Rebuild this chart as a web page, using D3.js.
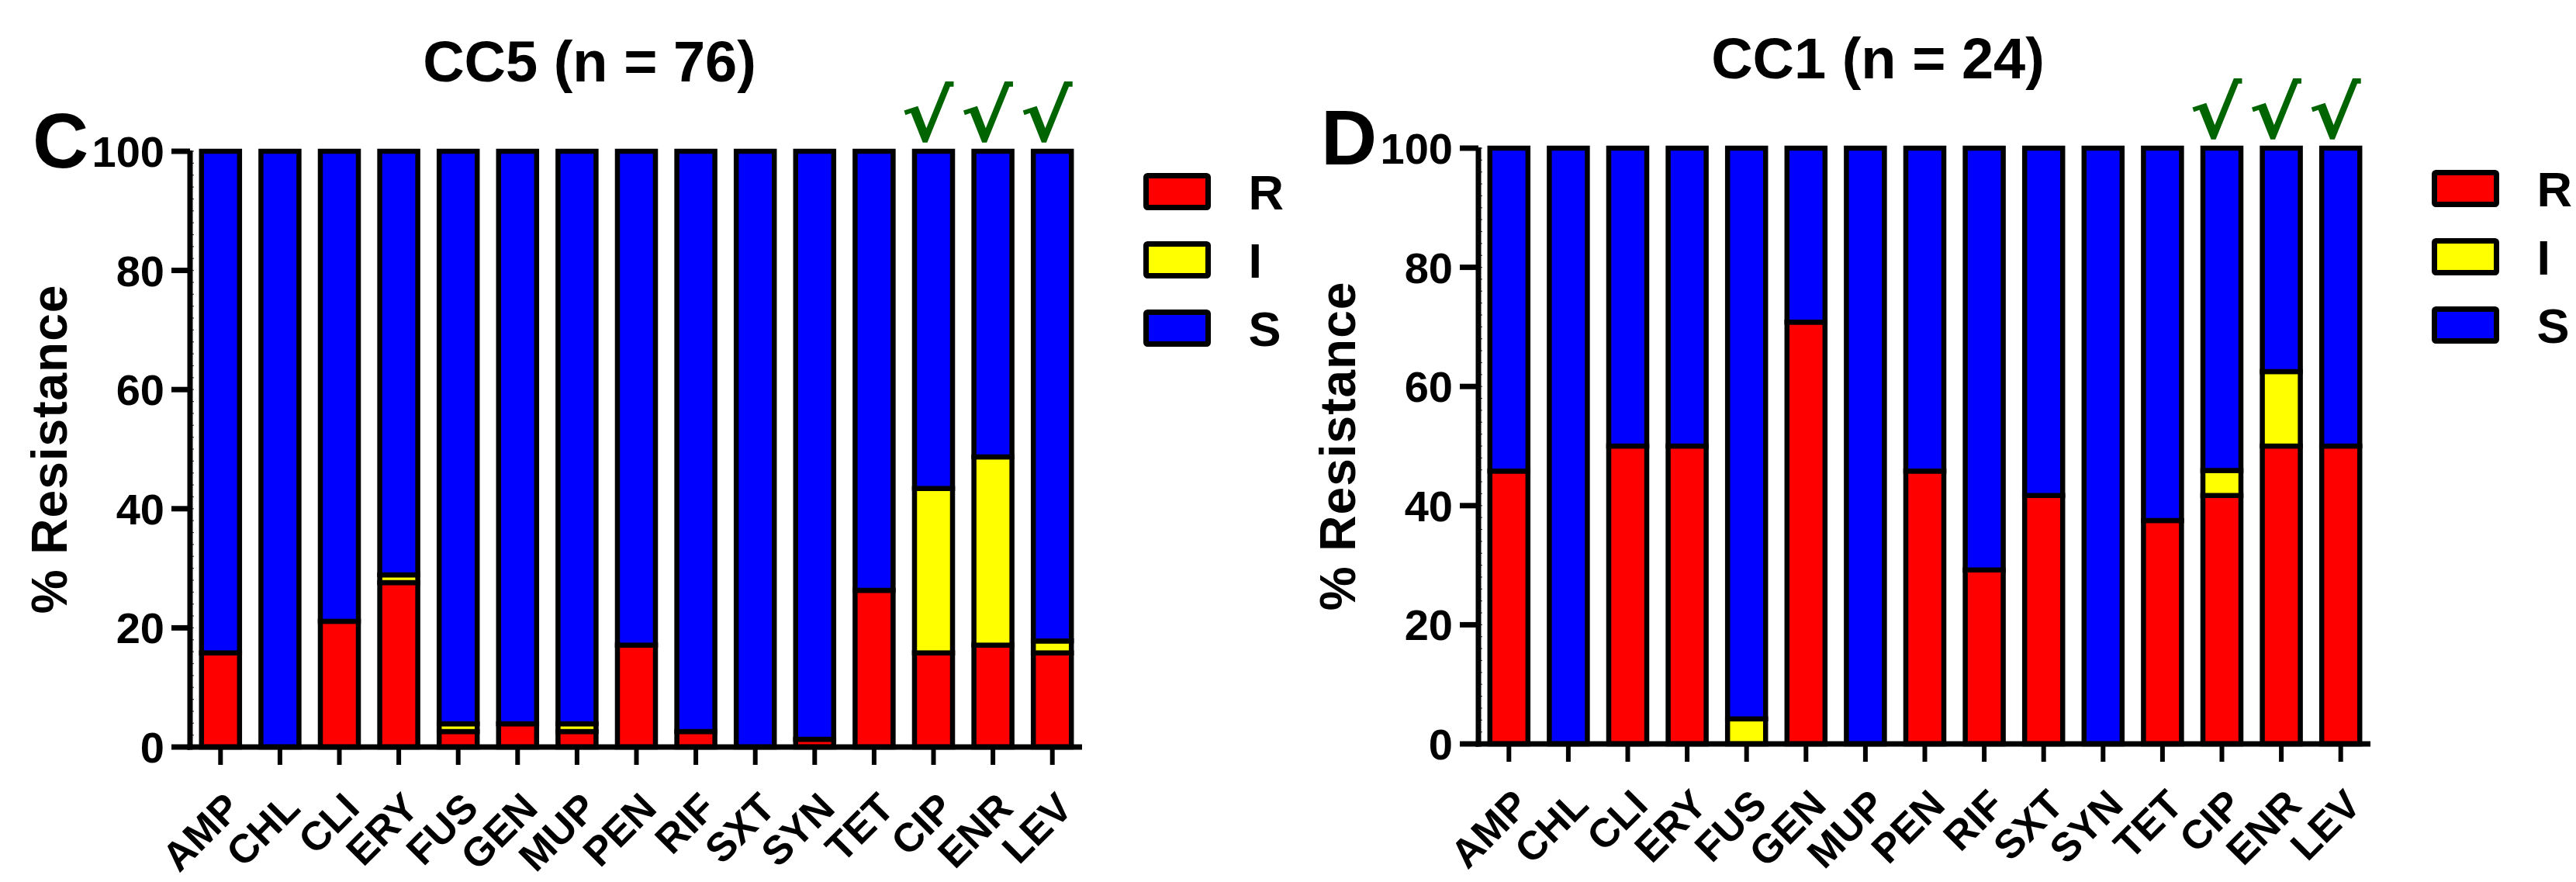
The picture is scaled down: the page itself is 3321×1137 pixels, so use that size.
<!DOCTYPE html>
<html>
<head>
<meta charset="utf-8">
<script src="https://cdn.jsdelivr.net/npm/d3@7/dist/d3.min.js"></script>
<style>
  body { margin: 0; background: #fff; }
  text { font-family: "Liberation Sans", Arial, sans-serif; font-weight: bold; fill: #000; }
</style>
</head>
<body>
<div id="chart"></div>
<script>
// antibiotics on the x axis
var drugs = ["AMP","CHL","CLI","ERY","FUS","GEN","MUP","PEN","RIF","SXT","SYN","TET","CIP","ENR","LEV"];
var checked = ["CIP","ENR","LEV"];
var statuses = ["R","I","S"];
var statusColors = ["#ff0000","#ffff00","#0000ff"];
var yTicks = [0,20,40,60,80,100];

// CC5 (n = 76), % of isolates
var cc5R = [15.8, 0, 21.1, 27.6, 2.6, 3.9, 2.6, 17.1, 2.6, 0, 1.3, 26.3, 15.8, 17.1, 15.8];
var cc5I = [0, 0, 0, 1.3, 1.3, 0, 1.3, 0, 0, 0, 0, 0, 27.6, 31.6, 2.0];
var cc5S = [84.2, 100, 78.9, 71.1, 96.1, 96.1, 96.1, 82.9, 97.4, 100, 98.7, 73.7, 56.6, 51.3, 82.2];

// CC1 (n = 24)
var cc1R = [45.8, 0, 50, 50, 0, 70.8, 0, 45.8, 29.2, 41.7, 0, 37.5, 41.7, 50, 50];
var cc1I = [0, 0, 0, 0, 4.2, 0, 0, 0, 0, 0, 0, 0, 4.2, 12.5, 0];
var cc1S = [54.2, 100, 50, 50, 95.8, 29.2, 100, 54.2, 70.8, 58.3, 100, 62.5, 54.1, 37.5, 50];

var W = 3321, H = 1137;

var svg = d3.select("#chart").append("svg")
    .attr("width", W)
    .attr("height", H);

svg.append("rect").attr("width", W).attr("height", H).attr("fill", "#fff");

function drawPanel(g, letter, title, R, I, S) {

  var rows = drugs.map(function(d, i) {
    return {drug: d, R: R[i], I: I[i], S: S[i]};
  });

  var x = d3.scaleBand()
      .domain(drugs)
      .range([246, 1395]);

  var y = d3.scaleLinear()
      .domain([0, 100])
      .range([963, 195]);

  var color = d3.scaleOrdinal().domain(statuses).range(statusColors);

  var stacked = d3.stack().keys(statuses)(rows);

  var barW = x.bandwidth() * 0.64;
  var mid = function(d) { return x(d) + x.bandwidth() / 2; };

  // bars
  g.selectAll("g.layer")
    .data(stacked)
    .enter()
    .append("g")
      .attr("class", "layer")
      .attr("fill", function(d) { return color(d.key); })
    .selectAll("rect")
    .data(function(d) { return d.filter(function(s) { return s[1] - s[0] > 0; }); })
    .enter()
    .append("rect")
      .attr("x", function(d) { return mid(d.data.drug) - barW / 2; })
      .attr("y", function(d) { return y(d[1]); })
      .attr("width", barW)
      .attr("height", function(d) { return y(d[0]) - y(d[1]); })
      .attr("stroke", "#000")
      .attr("stroke-width", 6.5);

  // minor ticks
  g.selectAll("line.yminor")
    .data(d3.range(0, 101, 2))
    .enter()
    .append("line")
      .attr("x1", 245).attr("x2", 250)
      .attr("y1", function(d) { return y(d); })
      .attr("y2", function(d) { return y(d); })
      .attr("stroke", "#444").attr("stroke-width", 1.2);

  // axes lines
  g.append("line")
    .attr("x1", 245).attr("x2", 245)
    .attr("y1", y(0) + 3.5).attr("y2", y(100) - 1)
    .attr("stroke", "#000").attr("stroke-width", 7);

  g.append("line")
    .attr("x1", 241.5).attr("x2", x.range()[1])
    .attr("y1", y(0)).attr("y2", y(0))
    .attr("stroke", "#000").attr("stroke-width", 7);

  // y ticks
  g.selectAll("line.ytick")
    .data(yTicks)
    .enter()
    .append("line")
      .attr("x1", 221).attr("x2", 245)
      .attr("y1", function(d) { return y(d); })
      .attr("y2", function(d) { return y(d); })
      .attr("stroke", "#000").attr("stroke-width", 7);

  g.selectAll("text.ylab")
    .data(yTicks)
    .enter()
    .append("text")
      .attr("x", 212)
      .attr("y", function(d) { return y(d) + 20; })
      .attr("text-anchor", "end")
      .style("font-size", "56px")
      .text(function(d) { return d; });

  // x ticks
  g.selectAll("line.xtick")
    .data(drugs)
    .enter()
    .append("line")
      .attr("x1", mid)
      .attr("x2", mid)
      .attr("y1", y(0)).attr("y2", y(0) + 23)
      .attr("stroke", "#000").attr("stroke-width", 6);

  g.selectAll("text.xlab")
    .data(drugs)
    .enter()
    .append("text")
      .attr("transform", function(d) {
        return "translate(" + (mid(d) + 2) + ",1018) rotate(-45)";
      })
      .attr("dy", "0.72em")
      .attr("text-anchor", "end")
      .style("font-size", "52px")
      .text(function(d) { return d; });

  // axis title
  g.append("text")
    .attr("transform", "translate(86,579) rotate(-90)")
    .attr("text-anchor", "middle")
    .style("font-size", "64px")
    .style("letter-spacing", "1px")
    .text("% Resistance");

  // panel letter and title
  g.append("text")
    .attr("x", 42).attr("y", 216)
    .style("font-size", "100px")
    .text(letter);

  g.append("text")
    .attr("x", 760).attr("y", 105)
    .attr("text-anchor", "middle")
    .style("font-size", "74px")
    .text(title);

  // check marks over the fluoroquinolones
  g.selectAll("text.check")
    .data(checked)
    .enter()
    .append("text")
      .attr("transform", function(d) { return "translate(" + (mid(d) - 8) + ",182) scale(1.1,1)"; })
      .attr("text-anchor", "middle")
      .style("font-family", "'DejaVu Sans', sans-serif")
      .style("font-size", "92px")
      .style("fill", "#006400")
      .text("\u221A");

  // legend
  var leg = g.selectAll("g.leg")
    .data(statuses)
    .enter()
    .append("g")
      .attr("transform", function(d, i) { return "translate(1477.5," + (226.5 + i * 88) + ")"; });

  leg.append("rect")
    .attr("width", 80).attr("height", 41)
    .attr("rx", 2)
    .attr("fill", function(d) { return color(d); })
    .attr("stroke", "#000").attr("stroke-width", 7);

  leg.append("text")
    .attr("x", 132).attr("y", 43)
    .style("font-size", "63px")
    .text(function(d) { return d; });
}

drawPanel(svg.append("g"), "C", "CC5 (n = 76)", cc5R, cc5I, cc5S);
drawPanel(svg.append("g").attr("transform", "translate(1661,-4)"), "D", "CC1 (n = 24)", cc1R, cc1I, cc1S);
</script>
</body>
</html>
